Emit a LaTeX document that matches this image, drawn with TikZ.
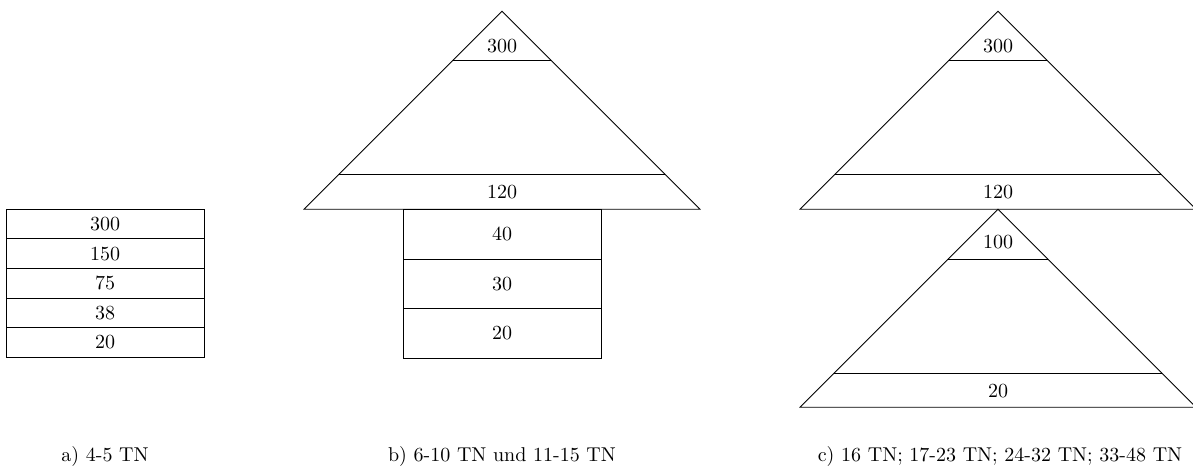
\documentclass[tikz,border=0pt]{standalone}
\begin{document}
\begin{tikzpicture}[x=0.5pt,y=-0.5pt,
  every node/.style={inner sep=0pt},
  lbl/.style={anchor=center},
  captext/.style={anchor=base},
  shapeline/.style={draw=black, line width=0.4pt}]
\useasboundingbox (0,0) rectangle (1193,469);
\clip (0,0) rectangle (1193,469);
% ---- a) stack of boxes
\foreach \i in {0,...,4}
  \draw[shapeline] (6,{209.3+29.6*\i}) rectangle (204,{209.3+29.6*(\i+1)});
\node[lbl] (a1) at (105,224.1) {300};
\node[lbl] (a2) at (105,253.7) {150};
\node[lbl] (a3) at (105,283.3) {75};
\node[lbl] (a4) at (105,312.9) {38};
\node[lbl] (a5) at (105,342.5) {20};
% ---- b) triangle + boxes
\draw[shapeline] (502,11.3) -- (304,209.3) -- (700,209.3) -- cycle;
\draw[shapeline] (453,60.3) -- (551,60.3);
\draw[shapeline] (339,174.3) -- (665,174.3);
\draw[shapeline] (403,209.3) rectangle (601,358);
\draw[shapeline] (403,259) -- (601,259);
\draw[shapeline] (403,308.7) -- (601,308.7);
\node[lbl] (b1) at (502,46) {300};
\node[lbl] (b2) at (502,192) {120};
\node[lbl] (b3) at (502,234) {40};
\node[lbl] (b4) at (502,284) {30};
\node[lbl] (b5) at (502,333.5) {20};
% ---- c) two triangles
\draw[shapeline] (998,11.3) -- (800,209.3) -- (1196,209.3) -- cycle;
\draw[shapeline] (949,60.3) -- (1047,60.3);
\draw[shapeline] (835,174.3) -- (1161,174.3);
\draw[shapeline] (998,209.3) -- (800,407.3) -- (1196,407.3) -- cycle;
\draw[shapeline] (948,259.3) -- (1048,259.3);
\draw[shapeline] (834.3,373) -- (1161.7,373);
\node[lbl] (c1) at (998,46) {300};
\node[lbl] (c2) at (998,192) {120};
\node[lbl] (c3) at (998,242) {100};
\node[lbl] (c4) at (998,391) {20};
% ---- captions
\node[captext] (capa) at (105,462) {a) 4-5 TN};
\node[captext] (capb) at (502,462) {b) 6-10 TN und 11-15 TN};
\node[captext] (capc) at (1000,462) {c) 16 TN; 17-23 TN; 24-32 TN; 33-48 TN};
\end{tikzpicture}
\end{document}
